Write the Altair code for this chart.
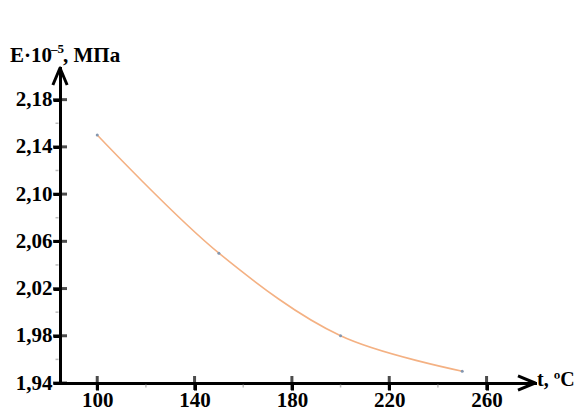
import altair as alt
import pandas as pd

# Measured Young's modulus versus temperature
temps = [100, 150, 200, 250]
modulus = [2.15, 2.05, 1.98, 1.95]

# Axis ticks and extents
x_ticks = [100, 140, 180, 220, 260]
x_minor = [120, 160, 200, 240]
y_ticks = [1.94, 1.98, 2.02, 2.06, 2.10, 2.14, 2.18]
y_minor = [1.96, 2.00, 2.04, 2.08, 2.12, 2.16]
x_domain = [84.7, 279.9]
y_domain = [1.94, 2.2068]

W, H = 475, 315
FONT = "'Liberation Serif', 'Times New Roman', serif"

xs = alt.Scale(domain=x_domain, nice=False, zero=False)
ys = alt.Scale(domain=y_domain, nice=False, zero=False)

axis_common = dict(
    domainColor="black", domainWidth=3, domainCap="square",
    tickColor="black", tickWidth=3, tickSize=7,
    labelFont=FONT, labelFontWeight="bold", labelFontSize=21,
    labelColor="black", grid=False, title=None,
    labelExpr="replace(format(datum.value, '.2f'), '.', ',')",
)

x_axis = alt.Axis(values=x_ticks, labelPadding=-1,
                  **{**axis_common, "labelExpr": "format(datum.value, 'd')"})
y_axis = alt.Axis(values=y_ticks, labelPadding=1, **axis_common)

df = pd.DataFrame({"t": temps, "E": modulus})

curve = alt.Chart(df).mark_line(
    interpolate="catmull-rom", color="#F4B183", strokeWidth=1.6
).encode(
    x=alt.X("t:Q", scale=xs, axis=x_axis),
    y=alt.Y("E:Q", scale=ys, axis=y_axis),
)

dots = alt.Chart(df).mark_point(
    filled=True, size=9, color="#8497B0", opacity=1
).encode(x=alt.X("t:Q", scale=xs), y=alt.Y("E:Q", scale=ys))

# Ticks crossing the axis lines
xt = pd.DataFrame({"t": x_ticks, "E": [y_domain[0]] * len(x_ticks)})
yt = pd.DataFrame({"t": [x_domain[0]] * len(y_ticks), "E": y_ticks})
x_cross = alt.Chart(xt).mark_tick(
    orient="vertical", size=14, thickness=3, color="black"
).encode(x=alt.X("t:Q", scale=xs), y=alt.Y("E:Q", scale=ys))
y_cross = alt.Chart(yt).mark_tick(
    orient="horizontal", size=14, thickness=3, color="black"
).encode(x=alt.X("t:Q", scale=xs), y=alt.Y("E:Q", scale=ys))

# Faint minor ticks
xm = pd.DataFrame({"t": x_minor, "E": [y_domain[0]] * len(x_minor)})
ym = pd.DataFrame({"t": [x_domain[0]] * len(y_minor), "E": y_minor})
x_min_t = alt.Chart(xm).mark_tick(
    orient="vertical", size=3, thickness=1.5, color="#a0a0a0", yOffset=3
).encode(x=alt.X("t:Q", scale=xs), y=alt.Y("E:Q", scale=ys))
y_min_t = alt.Chart(ym).mark_tick(
    orient="horizontal", size=3, thickness=1.5, color="#a0a0a0", xOffset=-3
).encode(x=alt.X("t:Q", scale=xs), y=alt.Y("E:Q", scale=ys))

# Arrowheads at the ends of the axes
x_arrow = alt.Chart(pd.DataFrame({"t": [x_domain[1]], "E": [y_domain[0]]})).mark_point(
    shape="M-1,-0.42L0,0L-1,0.42", size=1156, filled=False,
    stroke="black", strokeWidth=3, opacity=1, strokeJoin="round",
).encode(x=alt.X("t:Q", scale=xs), y=alt.Y("E:Q", scale=ys))
y_arrow = alt.Chart(pd.DataFrame({"t": [x_domain[0]], "E": [y_domain[1]]})).mark_point(
    shape="M-0.42,1L0,0L0.42,1", size=1156, filled=False,
    stroke="black", strokeWidth=3, opacity=1, strokeJoin="round",
).encode(x=alt.X("t:Q", scale=xs), y=alt.Y("E:Q", scale=ys))

# Axis titles
def label(text, x, y, size=21):
    return alt.Chart(pd.DataFrame({"s": [text]})).mark_text(
        text=text, font=FONT, fontWeight="bold", fontSize=size, color="black",
        align="left", baseline="alphabetic",
    ).encode(x=alt.value(x), y=alt.value(y))

y_title = label("E·10", -50, -6) + label("–5", -9, -15, 13) + label(", МПа", 3, -6)
x_title = label("t, ºC", 477, 318, 20)

chart = alt.layer(
    curve, dots, x_cross, y_cross, x_min_t, y_min_t, x_arrow, y_arrow,
    y_title, x_title,
).properties(
    width=W, height=H,
    autosize=alt.AutoSizeParams(type="none"),
    padding={"left": 60, "top": 68, "right": 44, "bottom": 26},
).configure_view(stroke=None)

chart.save("out.html", embed_options={"renderer": "svg", "actions": False})
